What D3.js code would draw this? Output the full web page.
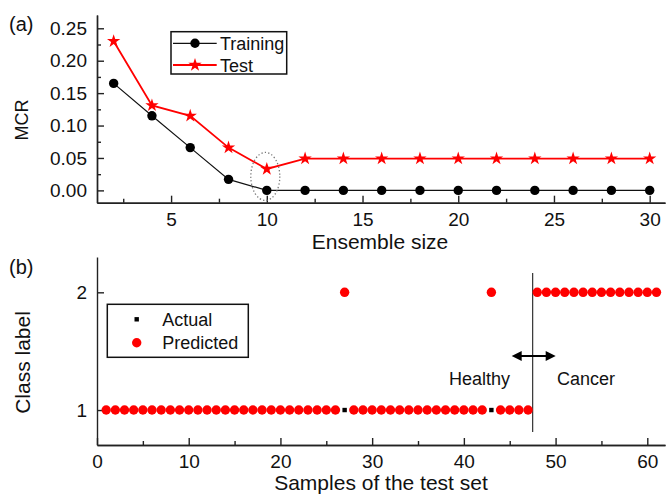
<!DOCTYPE html>
<html>
<head>
<meta charset="utf-8">
<script src="https://cdn.jsdelivr.net/npm/d3@7"></script>
<style>
 body { margin: 0; background: #fff; }
 text { font-family: "Liberation Sans", Arial, sans-serif; fill: #111; }
 .axis path, .axis line { stroke: #222; stroke-width: 1.4; }
 .axis text { font-size: 19px; fill: #111; }
</style>
</head>
<body>
<div id="chart"></div>
<script>
// (a) ensemble size vs MCR
var ensembleSize = [2, 4, 6, 8, 10, 12, 14, 16, 18, 20, 22, 24, 26, 28, 30];
var trainingMCR = [0.165, 0.115, 0.066, 0.017, 0, 0, 0, 0, 0, 0, 0, 0, 0, 0, 0];
var testMCR = [0.230, 0.131, 0.115, 0.066, 0.033, 0.049, 0.049, 0.049, 0.049, 0.049, 0.049, 0.049, 0.049, 0.049, 0.049];
var ticksA_x = [5, 10, 15, 20, 25, 30];
var ticksA_y = [0, 0.05, 0.10, 0.15, 0.20, 0.25];

// (b) samples of the test set vs class label
var sampleIds = d3.range(1, 62);
var actualLabel = sampleIds.map(function(s) { return s <= 47 ? 1 : 2; });
var predictedLabel = [1,1,1,1,1,1,1,1,1,1, 1,1,1,1,1,1,1,1,1,1, 1,1,1,1,1,1,2,1,1,1,
                      1,1,1,1,1,1,1,1,1,1, 1,1,2,1,1,1,1,2,2,2, 2,2,2,2,2,2,2,2,2,2, 2];
var ticksB_x = [0, 10, 20, 30, 40, 50, 60];
var ticksB_y = [1, 2];
var boundary = 47.5;

//svg dimensions
var svgWidth = 666;
var svgHeight = 497;

var svg = d3.select("#chart")
 .append("svg")
 .attr("width", svgWidth)
 .attr("height", svgHeight);

var left = 97, right = 665;

// ---------- panel (a) ----------
var xA = d3.scaleLinear().domain([1.13, 30.8]).range([left, right]);
var yA = d3.scaleLinear().domain([-0.019, 0.2705]).range([202.7, 15]);

var gA = svg.append("g");

// minor ticks
gA.append("g").attr("class", "axis")
 .attr("transform", "translate(0,202.7)")
 .call(d3.axisBottom(xA).tickValues(d3.range(2.5, 31, 5)).tickSize(-4).tickSizeOuter(0).tickFormat(""));
gA.append("g").attr("class", "axis")
 .attr("transform", `translate(${left},0)`)
 .call(d3.axisLeft(yA).tickValues(d3.range(0.025, 0.27, 0.05)).tickSize(-4).tickSizeOuter(0).tickFormat(""));

gA.append("g").attr("class", "axis")
 .attr("transform", "translate(0,202.7)")
 .call(d3.axisBottom(xA).tickValues(ticksA_x).tickSize(-7).tickSizeOuter(0).tickPadding(10));
gA.append("g").attr("class", "axis")
 .attr("transform", `translate(${left},0)`)
 .call(d3.axisLeft(yA).tickValues(ticksA_y).tickSize(-7).tickSizeOuter(0).tickPadding(10).tickFormat(d3.format(".2f")));

var lineTrain = d3.line().x((d, i) => xA(ensembleSize[i])).y(d => yA(d));
gA.append("path")
 .datum(trainingMCR)
 .attr("d", lineTrain)
 .attr("fill", "none")
 .attr("stroke", "#111")
 .attr("stroke-width", 1.2);
gA.append("path")
 .datum(testMCR)
 .attr("d", lineTrain)
 .attr("fill", "none")
 .attr("stroke", "#f00")
 .attr("stroke-width", 1.8);

gA.selectAll("circle.train")
 .data(trainingMCR)
 .enter()
 .append("circle")
 .attr("class", "train")
 .attr("cx", (d, i) => xA(ensembleSize[i]))
 .attr("cy", d => yA(d))
 .attr("r", 4.7)
 .attr("fill", "#000");

var star = d3.symbol().type(d3.symbolStar).size(55);
gA.selectAll("path.test")
 .data(testMCR)
 .enter()
 .append("path")
 .attr("class", "test")
 .attr("d", star)
 .attr("transform", (d, i) => `translate(${xA(ensembleSize[i])},${yA(d)})`)
 .attr("fill", "#f00");

// dotted ellipse around the minimum
gA.append("ellipse")
 .attr("cx", xA(10) - 1.5)
 .attr("cy", yA(0.0215))
 .attr("rx", 14.5)
 .attr("ry", 24)
 .attr("fill", "none")
 .attr("stroke", "#777")
 .attr("stroke-width", 1.3)
 .attr("stroke-dasharray", "1.3,2.2");

// legend (a)
var legA = gA.append("g");
legA.append("rect").attr("x", 171).attr("y", 31.7).attr("width", 115.7).attr("height", 42.3)
 .attr("fill", "#fff").attr("stroke", "#111").attr("stroke-width", 1.5);
legA.append("line").attr("x1", 173).attr("x2", 216.7).attr("y1", 43.3).attr("y2", 43.3)
 .attr("stroke", "#111").attr("stroke-width", 1.2);
legA.append("circle").attr("cx", 195).attr("cy", 43.3).attr("r", 4.7).attr("fill", "#000");
legA.append("text").attr("x", 220).attr("y", 49.8).style("font-size", "18px").text("Training");
legA.append("line").attr("x1", 173).attr("x2", 216.7).attr("y1", 65).attr("y2", 65)
 .attr("stroke", "#f00").attr("stroke-width", 1.8);
legA.append("path").attr("d", star).attr("transform", "translate(195,65)").attr("fill", "#f00");
legA.append("text").attr("x", 220).attr("y", 71.5).style("font-size", "18px").text("Test");

// axis labels (a)
svg.append("text")
 .attr("transform", "translate(28,120) rotate(-90)")
 .attr("text-anchor", "middle")
 .style("font-size", "18px")
 .text("MCR");
svg.append("text")
 .attr("x", 380).attr("y", 249)
 .attr("text-anchor", "middle")
 .style("font-size", "21px")
 .text("Ensemble size");
svg.append("text").attr("x", 9).attr("y", 31).style("font-size", "20px").text("(a)");

// ---------- panel (b) ----------
var xB = d3.scaleLinear().domain([0, 61.93]).range([left, right]);
var yB = d3.scaleLinear().domain([0.703, 2.3]).range([445, 257]);

var gB = svg.append("g");

gB.append("g").attr("class", "axis")
 .attr("transform", "translate(0,445)")
 .call(d3.axisBottom(xB).tickValues(d3.range(5, 61, 10)).tickSize(-4).tickSizeOuter(0).tickFormat(""));
gB.append("g").attr("class", "axis")
 .attr("transform", "translate(0,445)")
 .call(d3.axisBottom(xB).tickValues(ticksB_x).tickSize(-7).tickSizeOuter(0).tickPadding(10));
gB.append("g").attr("class", "axis")
 .attr("transform", `translate(${left},0)`)
 .call(d3.axisLeft(yB).tickValues(ticksB_y).tickSize(-7).tickSizeOuter(0).tickPadding(10).tickFormat(d3.format("d")));

// boundary between healthy and cancer
gB.append("line")
 .attr("x1", xB(boundary)).attr("x2", xB(boundary))
 .attr("y1", 273).attr("y2", 432)
 .attr("stroke", "#333").attr("stroke-width", 1.2);

// actual (small squares)
gB.selectAll("rect.actual")
 .data(actualLabel)
 .enter()
 .append("rect")
 .attr("class", "actual")
 .attr("x", (d, i) => xB(sampleIds[i]) - 2.2)
 .attr("y", d => yB(d) - 2.2)
 .attr("width", 4.4)
 .attr("height", 4.4)
 .attr("fill", "#000");

// predicted (red dots)
gB.selectAll("circle.pred")
 .data(predictedLabel)
 .enter()
 .append("circle")
 .attr("class", "pred")
 .attr("cx", (d, i) => xB(sampleIds[i]))
 .attr("cy", d => yB(d))
 .attr("r", 4.7)
 .attr("fill", "#f00");

// double arrow
var ay = 356, ax1 = 511.7, ax2 = 555.7;
gB.append("line").attr("x1", ax1 + 6).attr("x2", ax2 - 6).attr("y1", ay).attr("y2", ay)
 .attr("stroke", "#000").attr("stroke-width", 2);
gB.append("path").attr("d", `M${ax1},${ay}L${ax1 + 10},${ay - 5}L${ax1 + 10},${ay + 5}Z`).attr("fill", "#000");
gB.append("path").attr("d", `M${ax2},${ay}L${ax2 - 10},${ay - 5}L${ax2 - 10},${ay + 5}Z`).attr("fill", "#000");
gB.append("text").attr("x", 510).attr("y", 385).attr("text-anchor", "end").style("font-size", "18px").text("Healthy");
gB.append("text").attr("x", 557).attr("y", 385).style("font-size", "18px").text("Cancer");

// legend (b)
var legB = gB.append("g");
legB.append("rect").attr("x", 107.3).attr("y", 304.3).attr("width", 141).attr("height", 53)
 .attr("fill", "#fff").attr("stroke", "#111").attr("stroke-width", 1.5);
legB.append("rect").attr("x", 134.5).attr("y", 317.1).attr("width", 4.4).attr("height", 4.4).attr("fill", "#000");
legB.append("text").attr("x", 162.3).attr("y", 325.8).style("font-size", "18px").text("Actual");
legB.append("circle").attr("cx", 136.7).attr("cy", 342.7).attr("r", 4.7).attr("fill", "#f00");
legB.append("text").attr("x", 162.3).attr("y", 349.2).style("font-size", "18px").text("Predicted");

// axis labels (b)
svg.append("text")
 .attr("transform", "translate(30,362.5) rotate(-90)")
 .attr("text-anchor", "middle")
 .style("font-size", "21px")
 .text("Class label");
svg.append("text")
 .attr("x", 381).attr("y", 490)
 .attr("text-anchor", "middle")
 .style("font-size", "21px")
 .text("Samples of the test set");
svg.append("text").attr("x", 9).attr("y", 274).style("font-size", "20px").text("(b)");
</script>
</body>
</html>
